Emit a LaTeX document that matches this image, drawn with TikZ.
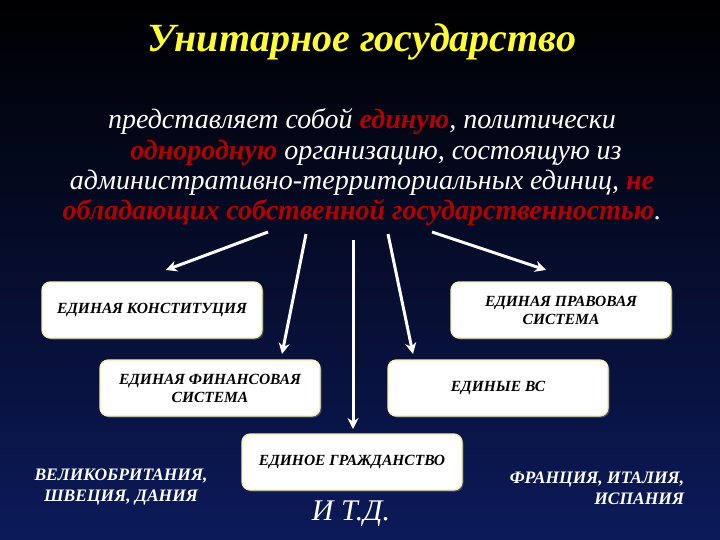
\documentclass[tikz,border=0pt]{standalone}
\usepackage{fontspec}
\setmainfont{Liberation Serif}
\usetikzlibrary{shadows,arrows.meta}
\definecolor{bgtop}{HTML}{000000}
\definecolor{bgbot}{HTML}{0C1A5A}
\definecolor{ttl}{HTML}{FFFF33}
\definecolor{rd}{HTML}{B00000}
\definecolor{bord}{HTML}{F2EFB0}
\tikzset{
 box/.style={draw=bord,line width=1.2pt,fill=white,rounded corners=8pt,minimum width=220pt,minimum height=56pt,align=center,font=\bfseries\itshape\fontsize{15.5}{18}\selectfont,text=black,drop shadow={shadow xshift=1.5pt,shadow yshift=-1.5pt,opacity=0.5}},
 arr/.style={draw=white,line width=3pt,-{Stealth[length=11pt,width=11pt]}},
 lbl/.style={text=white,font=\bfseries\itshape\fontsize{17.5}{21}\selectfont,align=center},
 body/.style={text=white,font=\itshape\fontsize{28}{30}\selectfont,align=center}
}
\newcommand{\rw}[1]{\textcolor{rd}{\bfseries #1}}
\begin{document}
\begin{tikzpicture}[x=1pt,y=-1pt]
\shade[top color=bgtop,bottom color=bgbot] (0,0) rectangle (720,540);
\useasboundingbox (0,0) rectangle (720,540);
\node (title) [text=ttl,font=\bfseries\itshape\fontsize{40}{44}\selectfont] at (362,42) {Унитарное государство};
\node (body) [body] at (362,167) {представляет собой \rw{единую}, политически\\
\hspace*{1em}\rw{однородную} организацию, состоящую из\\
административно-территориальных единиц, \rw{не}\\
\rw{обладающих собственной государственностью}.};
\node (k) [box] at (152,310) {ЕДИНАЯ КОНСТИТУЦИЯ};
\node (p) [box] at (561,310) {ЕДИНАЯ ПРАВОВАЯ\\СИСТЕМА};
\node (f) [box] at (210,388) {ЕДИНАЯ ФИНАНСОВАЯ\\СИСТЕМА};
\node (v) [box] at (498,388) {ЕДИНЫЕ ВС};
\node (g) [box] at (352,462) {ЕДИНОЕ ГРАЖДАНСТВО};
\coordinate (s1) at (268,232); \coordinate (s2) at (306,234);
\coordinate (s3) at (353,240); \coordinate (s4) at (388,234);
\coordinate (s5) at (432,232);
\coordinate (e1) at (166,270); \coordinate (e2) at (282,354);
\coordinate (e3) at (353,429); \coordinate (e4) at (413,354);
\coordinate (e5) at (546,270);
\draw[arr] (s1) -- (e1);
\draw[arr] (s2) -- (e2);
\draw[arr] (s3) -- (e3);
\draw[arr] (s4) -- (e4);
\draw[arr] (s5) -- (e5);
\node (uk) [lbl] at (121,487) {ВЕЛИКОБРИТАНИЯ,\\ШВЕЦИЯ, ДАНИЯ};
\node (etc) [lbl,font=\itshape\fontsize{30}{32}\selectfont] at (351,514) {И Т.Д.};
\node (fr) [lbl,align=right] at (597,488) {ФРАНЦИЯ, ИТАЛИЯ,\\ИСПАНИЯ};
\end{tikzpicture}
\end{document}
